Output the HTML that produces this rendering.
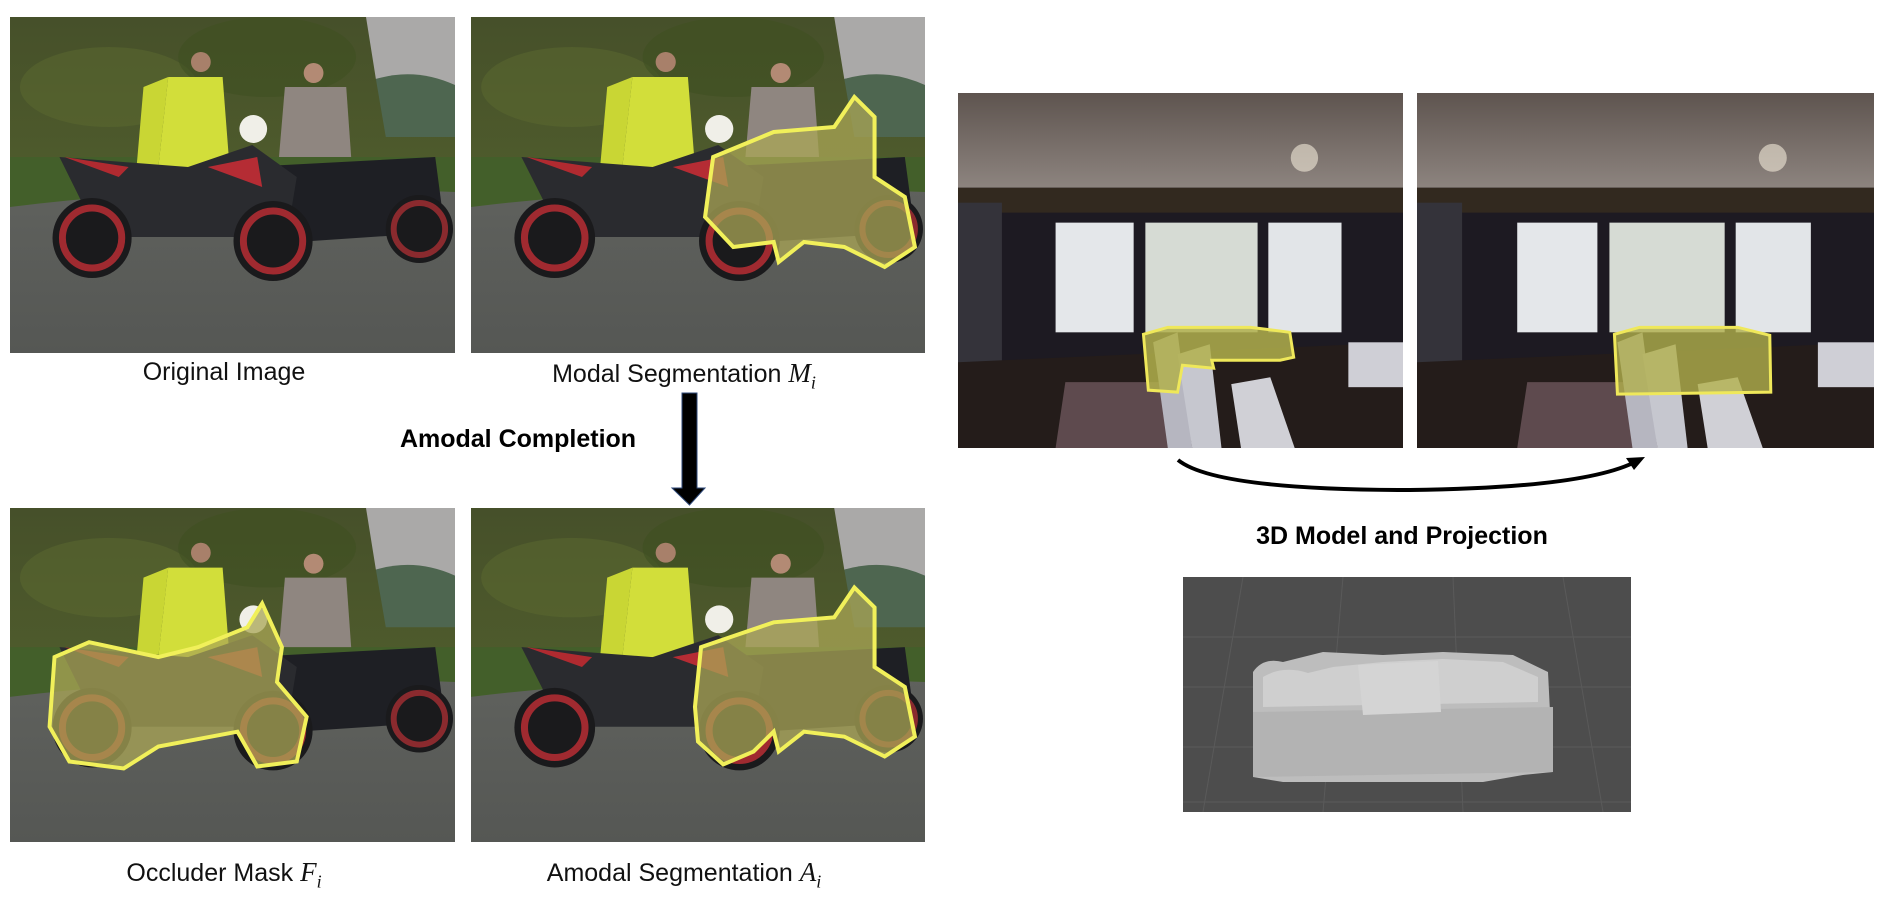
<!DOCTYPE html>
<html><head><meta charset="utf-8"><style>
html,body{margin:0;padding:0;background:#fff;width:1902px;height:902px;overflow:hidden;position:relative;font-family:"Liberation Sans",sans-serif}
.lbl{position:absolute;font-size:25px;color:#111;white-space:nowrap;transform:translateX(-50%)}
.lbl i{font-family:"Liberation Serif",serif;font-size:27px}
.ttl{position:absolute;font-weight:bold;font-size:25px;color:#000;white-space:nowrap;transform:translateX(-50%)}
svg.ph{position:absolute}
</style></head><body>
<svg width="0" height="0" style="position:absolute">
<defs>
<linearGradient id="gsky" x1="0" y1="0" x2="0" y2="1"><stop offset="0" stop-color="#46502a"/><stop offset="0.5" stop-color="#4f5c2c"/><stop offset="1" stop-color="#3a4a24"/></linearGradient>
<linearGradient id="groad" x1="0" y1="0" x2="0" y2="1"><stop offset="0" stop-color="#5f615d"/><stop offset="1" stop-color="#555754"/></linearGradient>
<g id="moto">
<rect width="450" height="336" fill="url(#gsky)"/>
<path d="M360 0H450V70Q400 55 370 62Z" fill="#aaa9a8"/>
<path d="M370 62Q410 50 450 68V120H380Z" fill="#4e6650"/>
<rect x="0" y="140" width="450" height="60" fill="#435f2a"/>
<path d="M0 190Q200 165 450 175V336H0Z" fill="url(#groad)"/>
<ellipse cx="100" cy="70" rx="90" ry="40" fill="#5c6a30" opacity="0.5"/>
<ellipse cx="260" cy="40" rx="90" ry="40" fill="#3f5021" opacity="0.6"/>
<circle cx="193" cy="45" r="10" fill="#a8806a"/>
<path d="M160 60H215L222 150H150Z" fill="#d2de3a"/>
<path d="M135 70L160 60L150 150H128Z" fill="#c9d634"/>
<circle cx="307" cy="56" r="10" fill="#b38a74"/>
<path d="M278 70H340L345 140H272Z" fill="#8f8680"/>
<path d="M240 150L430 140L440 215L290 225Z" fill="#1e1f24"/>
<circle cx="414" cy="212" r="34" fill="#1a1a1c"/><circle cx="414" cy="212" r="26" fill="none" stroke="#8a2a2e" stroke-width="6"/>
<path d="M50 140L180 150L245 128L290 160L280 220H90Z" fill="#2a2b2f"/>
<path d="M55 140L120 150L110 160Z" fill="#b02a30"/>
<path d="M200 150L250 140L255 170Z" fill="#b52c34"/>
<circle cx="246" cy="112" r="14" fill="#f0efe8"/>
<circle cx="83" cy="221" r="40" fill="#1a1a1c"/><circle cx="83" cy="221" r="30" fill="none" stroke="#a02a30" stroke-width="7"/>
<circle cx="266" cy="224" r="40" fill="#1a1a1c"/><circle cx="266" cy="224" r="30" fill="none" stroke="#a02a30" stroke-width="7"/>
</g>
<linearGradient id="gceil" x1="0" y1="0" x2="0" y2="1"><stop offset="0" stop-color="#5e544f"/><stop offset="1" stop-color="#8d847f"/></linearGradient>
<g id="room">
<rect width="456" height="356" fill="#1d1a22"/>
<path d="M0 0H456V95H0Z" fill="url(#gceil)"/>
<path d="M0 95H456V120H0Z" fill="#32291f"/>
<rect x="100" y="130" width="80" height="110" fill="#e4e7ea"/>
<rect x="192" y="130" width="115" height="110" fill="#d6dbd4"/>
<rect x="318" y="130" width="75" height="110" fill="#e2e5e8"/>
<rect x="0" y="110" width="45" height="246" fill="#34333a"/>
<path d="M0 270L456 250V356H0Z" fill="#241c1a"/>
<path d="M110 290H260L245 356H100Z" fill="#5e4a4e"/>
<circle cx="355" cy="65" r="14" fill="#f2e9d8" opacity="0.6"/>
<path d="M200 250L225 240L240 356H215Z" fill="#b6b6c0"/>
<path d="M225 262L258 252L270 356H240Z" fill="#c6c7cf"/>
<path d="M280 292L320 285L345 356H290Z" fill="#d0d0d6"/>
<rect x="400" y="250" width="56" height="45" fill="#cfcfd6"/>
</g>
</defs>
</svg>

<svg class="ph" style="left:10px;top:17px" width="445" height="336" viewBox="0 0 450 336" preserveAspectRatio="none"><use href="#moto"/></svg>
<svg class="ph" style="left:471px;top:17px" width="454" height="336" viewBox="0 0 450 336" preserveAspectRatio="none"><use href="#moto"/>
<path d="M240 140L300 115L360 110L380 80L400 100L400 160L430 180L440 230L410 250L370 230L330 225L305 245L300 225L260 230L232 200Z" fill="#a9a656" fill-opacity="0.75" stroke="#f1f05a" stroke-width="4"/></svg>
<svg class="ph" style="left:10px;top:508px" width="445" height="334" viewBox="0 0 450 336" preserveAspectRatio="none"><use href="#moto"/>
<path d="M45 150L80 135L150 150L190 140L240 120L255 96L275 140L270 175L300 210L290 255L250 260L230 225L150 240L115 262L60 255L40 220Z" fill="#a9a656" fill-opacity="0.75" stroke="#f1f05a" stroke-width="4"/></svg>
<svg class="ph" style="left:471px;top:508px" width="454" height="334" viewBox="0 0 450 336" preserveAspectRatio="none"><use href="#moto"/>
<path d="M228 140L300 115L360 110L380 80L400 100L400 160L430 180L440 230L410 250L370 230L330 225L305 245L300 225L280 245L250 258L225 235L222 200Z" fill="#a9a656" fill-opacity="0.75" stroke="#f1f05a" stroke-width="4"/></svg>

<div class="lbl" style="left:224px;top:358px">Original Image</div>
<div class="lbl" style="left:684px;top:358px">Modal Segmentation <i>M<sub style="font-size:18px">i</sub></i></div>
<div class="lbl" style="left:224px;top:857px">Occluder Mask <i>F<sub style="font-size:18px">i</sub></i></div>
<div class="lbl" style="left:684px;top:857px">Amodal Segmentation <i>A<sub style="font-size:18px">i</sub></i></div>
<div class="ttl" style="left:518px;top:425px">Amodal Completion</div>

<svg class="ph" style="left:0;top:0" width="1902" height="902">
<path d="M682 393H697V488H705L689.5 505L672 488H682Z" fill="#000" stroke="#2f4a7a" stroke-width="1"/>
<path d="M1178 460Q1215 490 1410 490Q1580 488 1633 463" fill="none" stroke="#000" stroke-width="4"/>
<path d="M1645 457L1626 458L1634 470Z" fill="#000"/>
</svg>

<svg class="ph" style="left:958px;top:93px" width="445" height="355" viewBox="0 0 456 356" preserveAspectRatio="none"><use href="#room"/>
<path d="M190 242L215 235L300 235L340 240L344 265L330 268L260 268L262 276L230 273L225 300L195 298Z" fill="#b2b04c" fill-opacity="0.85" stroke="#efe85a" stroke-width="3"/></svg>
<svg class="ph" style="left:1417px;top:93px" width="457" height="355" viewBox="0 0 456 356" preserveAspectRatio="none"><use href="#room"/>
<path d="M197 242L222 235L320 235L352 243L353 300L200 302Z" fill="#b2b04c" fill-opacity="0.8" stroke="#efe85a" stroke-width="3"/></svg>

<div class="ttl" style="left:1402px;top:522px">3D Model and Projection</div>

<svg class="ph" style="left:1183px;top:577px" width="448" height="235" viewBox="0 0 448 235">
<rect width="448" height="235" fill="#4d4d4d"/>
<g stroke="#5a5a5a" stroke-width="1" fill="none">
<path d="M0 60H448M0 110H448M0 170H448M0 225H448"/>
<path d="M60 0L20 235M160 0L140 235M270 0L280 235M380 0L420 235"/>
</g>
<path d="M70 95Q80 80 100 85L140 75L200 78L260 75L330 78L365 95L370 195L340 198L300 205H100L70 200Z" fill="#bdbdbd"/>
<path d="M80 100Q100 88 125 96L150 90L200 85L260 82L320 85L355 100L355 125L80 130Z" fill="#cfcfcf"/>
<path d="M70 135L370 130L370 195L70 200Z" fill="#b3b3b3"/>
<path d="M175 88L255 84L258 135L180 138Z" fill="#d4d4d4"/>
</svg>
</body></html>
